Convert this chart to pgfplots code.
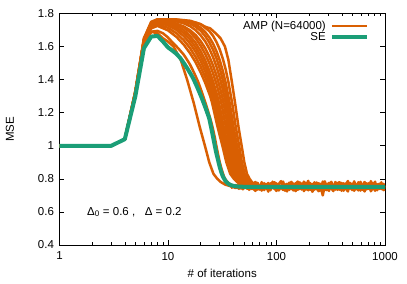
\documentclass[border=0pt]{standalone}
\usepackage{fontspec}
\setmainfont{Liberation Sans}
\usepackage{pgfplots}
\usepackage{pgfplotstable}
\pgfplotsset{compat=1.18}
\definecolor{ampc}{HTML}{D95F02}
\definecolor{sec}{HTML}{1B9E77}
\pgfplotstableread{
t a b c d e
38 0.758 0.746 0.752 0.753 0.745
40 0.748 0.757 0.761 0.762 0.755
42 0.760 0.744 0.747 0.749 0.763
45 0.746 0.759 0.755 0.765 0.740
47 0.757 0.750 0.744 0.742 0.760
49 0.749 0.762 0.763 0.758 0.737
51 0.761 0.745 0.751 0.766 0.753
54 0.744 0.756 0.740 0.746 0.769
56 0.760 0.742 0.764 0.771 0.734
59 0.747 0.763 0.748 0.739 0.757
61 0.766 0.738 0.757 0.768 0.742
64 0.741 0.760 0.739 0.781 0.727
67 0.758 0.752 0.768 0.735 0.776
70 0.749 0.735 0.753 0.762 0.741
73 0.770 0.764 0.743 0.729 0.780
77 0.742 0.747 0.766 0.774 0.732
80 0.761 0.769 0.749 0.745 0.759
84 0.737 0.740 0.775 0.766 0.723
88 0.756 0.758 0.741 0.731 0.773
92 0.764 0.744 0.760 0.783 0.748
96 0.745 0.766 0.738 0.744 0.779
100 0.772 0.737 0.770 0.727 0.762
105 0.740 0.761 0.754 0.769 0.730
110 0.755 0.748 0.745 0.786 0.751
115 0.763 0.733 0.776 0.741 0.784
120 0.736 0.767 0.742 0.760 0.728
125 0.768 0.745 0.763 0.724 0.770
131 0.749 0.771 0.733 0.777 0.738
137 0.759 0.739 0.759 0.748 0.782
143 0.742 0.756 0.771 0.730 0.762
150 0.774 0.762 0.746 0.765 0.726
157 0.738 0.734 0.737 0.784 0.747
164 0.760 0.768 0.767 0.738 0.779
171 0.751 0.747 0.752 0.772 0.735
179 0.767 0.740 0.780 0.726 0.783
187 0.735 0.773 0.740 0.757 0.765
196 0.757 0.751 0.761 0.788 0.731
205 0.769 0.736 0.744 0.733 0.774
214 0.744 0.764 0.769 0.751 0.722
224 0.762 0.744 0.735 0.779 0.747
234 0.739 0.770 0.758 0.742 0.778
245 0.771 0.739 0.773 0.725 0.760
256 0.748 0.757 0.747 0.770 0.729
267 0.744 0.765 0.700 0.756 0.784
279 0.765 0.732 0.762 0.785 0.738
292 0.743 0.761 0.739 0.731 0.771
305 0.776 0.749 0.757 0.768 0.727
319 0.740 0.775 0.777 0.744 0.782
334 0.758 0.738 0.743 0.726 0.760
349 0.766 0.755 0.765 0.781 0.735
365 0.737 0.767 0.734 0.752 0.773
381 0.762 0.735 0.760 0.736 0.780
398 0.750 0.763 0.772 0.775 0.728
416 0.773 0.746 0.745 0.729 0.767
435 0.741 0.772 0.756 0.763 0.741
455 0.757 0.737 0.740 0.787 0.724
476 0.768 0.759 0.768 0.740 0.776
497 0.738 0.750 0.749 0.771 0.732
520 0.764 0.728 0.778 0.733 0.785
543 0.745 0.766 0.737 0.758 0.745
568 0.779 0.743 0.763 0.730 0.777
594 0.736 0.769 0.753 0.782 0.729
621 0.760 0.734 0.741 0.747 0.762
649 0.752 0.761 0.770 0.724 0.781
678 0.769 0.748 0.746 0.773 0.736
709 0.741 0.774 0.759 0.739 0.770
741 0.763 0.739 0.735 0.786 0.725
775 0.738 0.757 0.774 0.755 0.749
810 0.771 0.765 0.748 0.728 0.783
846 0.747 0.736 0.766 0.767 0.731
885 0.758 0.762 0.739 0.744 0.771
925 0.767 0.745 0.761 0.779 0.738
967 0.742 0.770 0.751 0.732 0.766
1000 0.756 0.748 0.757 0.760 0.727
}\noisetab
\begin{document}
\begin{tikzpicture}[font=\fontsize{11.5bp}{13bp}\selectfont]
\begin{axis}[
  at={(0,0)}, anchor=south west,
  scale only axis, width=325.5bp, height=231.5bp,
  xmode=log, xmin=1, xmax=1000, ymin=0.4, ymax=1.8,
  xtick={1,10,100,1000}, xticklabels={1,10,100,1000},
  minor xtick={2,3,4,5,6,7,8,9,20,30,40,50,60,70,80,90,200,300,400,500,600,700,800,900},
  ytick={0.4,0.6,0.8,1,1.2,1.4,1.6,1.8},
  yticklabels={0.4,0.6,0.8,1,1.2,1.4,1.6,1.8},
  tick align=inside,
  major tick length=5bp, minor tick length=2.5bp,
  tick style={black, line width=0.6bp},
  axis line style={line width=0.9bp},
  xticklabel style={yshift=-3.5bp},
  yticklabel style={xshift=-2bp},
  xlabel={\# of iterations}, ylabel={MSE},
  x label style={at={(axis description cs:0.5,-0.121)}, anchor=center},
  y label style={at={(axis description cs:-0.152,0.5)}, anchor=center},
  legend cell align=right, legend plot pos=right,
  legend style={draw=none, fill=none, at={(axis description cs:0.96,0.98)}, anchor=north east,
    nodes={inner sep=1bp}, row sep=-1bp, column sep=3bp},
  legend image code/.code={\draw[#1] (0bp,0bp) -- (35bp,0bp);},
  ampst/.style={color=ampc, line width=2.5bp, line join=round, no markers},
  every axis plot/.append style={line join=round},
]
% AMP curves
\addplot[ampst] coordinates {(1,1)(2,1)(3,1)(4,1.04)(5,1.31)(6,1.60)(7,1.69)(8,1.68)(9,1.65)(10,1.63)(11.25,1.60)(13.1,1.52)(15,1.40)(17.25,1.26)(19.5,1.12)(22.1,0.99)(24,0.90)(26.25,0.83)(28.5,0.80)(30.75,0.78)(33.75,0.765)(38,0.755)(42,0.748)(46,0.758)(50,0.746)(55,0.755)};
\addlegendentry{AMP (N=64000)}
\addplot[ampst, forget plot] coordinates {(1,1)(2,1)(3,1)(4,1.04)(5,1.31)(6,1.61)(7,1.69)(8,1.695)(9,1.68)(10,1.655)(11,1.625)(12,1.60)(13,1.575)(14,1.55)(15,1.52)(16,1.49)(17,1.455)(18,1.42)(19,1.385)(20,1.345)(21,1.305)(22,1.265)(23,1.225)(24,1.185)(25,1.145)(26,1.10)(27,1.05)(28,0.995)(29,0.945)(30,0.90)(31,0.865)(32,0.835)(33,0.81)(34,0.795)(36,0.775)(38,0.765)(41,0.758)(45,0.750)(50,0.757)};
\addplot[ampst, forget plot] coordinates {(1,1)(2,1)(3,1)(4,1.04)(5,1.32)(6,1.63)(7,1.71)(8,1.725)(10,1.698)(12,1.658)(14,1.611)(16,1.559)(18,1.504)(20,1.444)(22,1.382)(24.5,1.30)(25.5,1.26)(28.5,1.12)(32,0.99)(34.5,0.90)(37.5,0.83)(40.5,0.80)(43.5,0.78)(47.5,0.765)(54.5,0.755)};
\addplot[ampst, forget plot] coordinates {(1,1)(2,1)(3,1)(4,1.04)(5,1.33)(6,1.64)(7,1.72)(8,1.735)(10,1.714)(12,1.680)(14,1.638)(16,1.590)(18,1.536)(20,1.478)(22,1.417)(24,1.351)(25.5,1.30)(26.5,1.26)(29.5,1.12)(33,0.99)(35.5,0.90)(38.5,0.83)(41.5,0.80)(44.5,0.78)(48.5,0.765)(55.5,0.755)};
\addplot[ampst, forget plot] coordinates {(1,1)(2,1)(3,1)(4,1.04)(5,1.32)(6,1.62)(7,1.73)(8,1.745)(10,1.729)(12,1.700)(14,1.663)(16,1.618)(18,1.568)(20,1.513)(22,1.452)(24,1.387)(26.5,1.30)(27.5,1.26)(30.5,1.12)(34,0.99)(36.5,0.90)(39.5,0.83)(42.5,0.80)(45.5,0.78)(49.5,0.765)(56.5,0.755)};
\addplot[ampst, forget plot] coordinates {(1,1)(2,1)(3,1)(4,1.04)(5,1.31)(6,1.63)(7,1.73)(8,1.75)(10,1.738)(12,1.714)(14,1.682)(16,1.642)(18,1.595)(20,1.543)(22,1.485)(24,1.422)(26,1.354)(27.5,1.30)(28.5,1.26)(31.5,1.12)(35,0.99)(37.5,0.90)(40.5,0.83)(43.5,0.80)(46.5,0.78)(50.5,0.765)(57.5,0.755)};
\addplot[ampst, forget plot] coordinates {(1,1)(2,1)(3,1)(4,1.04)(5,1.33)(6,1.65)(7,1.74)(8,1.755)(10,1.746)(12,1.727)(14,1.699)(16,1.663)(18,1.621)(20,1.572)(22,1.517)(24,1.456)(26,1.390)(28.5,1.30)(29.5,1.26)(32.5,1.12)(36,0.99)(38.5,0.90)(41.5,0.83)(44.5,0.80)(47.5,0.78)(51.5,0.765)(58.5,0.755)};
\addplot[ampst, forget plot] coordinates {(1,1)(2,1)(3,1)(4,1.04)(5,1.32)(6,1.64)(7,1.745)(8,1.76)(10,1.754)(12,1.739)(14,1.716)(16,1.686)(18,1.649)(20,1.605)(22,1.556)(24,1.501)(26,1.439)(28,1.373)(30,1.30)(31,1.26)(34,1.12)(37.5,0.99)(40,0.90)(43,0.83)(46,0.80)(49,0.78)(53,0.765)(60,0.755)};
\addplot[ampst, forget plot] coordinates {(1,1)(2,1)(3,1)(4,1.04)(5,1.31)(6,1.62)(7,1.725)(8,1.75)(10,1.747)(12,1.737)(14,1.721)(16,1.698)(18,1.669)(20,1.633)(22,1.590)(24,1.541)(26,1.486)(28,1.424)(30,1.356)(31.5,1.30)(32.5,1.26)(35.5,1.12)(39,0.99)(41.5,0.90)(44.5,0.83)(47.5,0.80)(50.5,0.78)(54.5,0.765)(61.5,0.755)};
\addplot[ampst, forget plot] coordinates {(1,1)(2,1)(3,1)(4,1.04)(5,1.32)(6,1.63)(7,1.74)(8,1.76)(10,1.758)(12,1.752)(14,1.740)(16,1.723)(18,1.699)(20,1.668)(22,1.632)(24,1.588)(26,1.537)(28,1.478)(30,1.413)(32,1.340)(33,1.30)(34,1.26)(37,1.12)(40.5,0.99)(43,0.90)(46,0.83)(49,0.80)(52,0.78)(56,0.765)(63,0.755)};
\addplot[ampst, forget plot] coordinates {(1,1)(2,1)(3,1)(4,1.04)(5,1.32)(6,1.64)(7,1.745)(8,1.765)(10,1.764)(12,1.760)(14,1.752)(16,1.739)(18,1.720)(20,1.696)(22,1.664)(24,1.626)(26,1.581)(28,1.528)(30,1.467)(32,1.399)(34.5,1.30)(35.5,1.26)(38.5,1.12)(42,0.99)(44.5,0.90)(47.5,0.83)(50.5,0.80)(53.5,0.78)(57.5,0.765)(64.5,0.755)};
\addplot[ampst, forget plot] coordinates {(1,1)(2,1)(3,1)(4,1.04)(5,1.33)(6,1.65)(7,1.75)(8,1.765)(10,1.765)(12,1.762)(14,1.757)(16,1.747)(18,1.733)(20,1.714)(22,1.688)(24,1.656)(26,1.618)(28,1.571)(30,1.517)(32,1.453)(34,1.381)(36,1.30)(37,1.26)(40,1.12)(43.5,0.99)(46,0.90)(49,0.83)(52,0.80)(55,0.78)(59,0.765)(66,0.755)};
\addplot[ampst, forget plot] coordinates {(1,1)(2,1)(3,1)(4,1.04)(5,1.32)(6,1.63)(7,1.74)(8,1.76)(10,1.765)(12,1.764)(16,1.756)(20,1.735)(24,1.694)(26,1.665)(28,1.627)(30,1.582)(32,1.527)(34,1.462)(36,1.387)(38,1.30)(39,1.26)(42,1.12)(45.5,0.99)(48,0.90)(51,0.83)(54,0.80)(57,0.78)(61,0.765)(68,0.755)};
\addplot[ampst, forget plot] coordinates {(1,1)(2,1)(3,1)(4,1.04)(5,1.31)(6,1.62)(7,1.73)(8,1.75)(9,1.76)(10,1.765)(12,1.76)(14,1.755)(16,1.75)(18,1.745)(20,1.735)(22,1.72)(24.5,1.71)(27.5,1.68)(30.5,1.65)(33.5,1.60)(36,1.52)(38.5,1.40)(41.5,1.26)(44.5,1.12)(48,0.99)(50.5,0.90)(53.5,0.83)(56.5,0.80)(59.5,0.78)(63.5,0.765)(70.5,0.755)};
% noisy plateau of the AMP runs
\addplot[ampst, forget plot] table[x=t, y=a] {\noisetab};
\addplot[ampst, forget plot] table[x=t, y=b] {\noisetab};
\addplot[ampst, forget plot] table[x=t, y=c] {\noisetab};
\addplot[ampst, forget plot] table[x=t, y=d] {\noisetab};
\addplot[ampst, forget plot] table[x=t, y=e] {\noisetab};
% SE
\addplot[color=sec, line width=4bp, line join=round, no markers] coordinates {(1,1)(2,1)(3,1)(4,1.04)(5,1.30)(6,1.59)(7,1.66)(8,1.665)(9,1.63)(10,1.595)(11,1.575)(12,1.555)(13,1.53)(14,1.50)(15,1.47)(16,1.44)(17,1.41)(18,1.375)(19,1.34)(20,1.305)(21,1.27)(22,1.235)(23,1.20)(24,1.165)(25,1.11)(26,1.055)(27,1.0)(28,0.95)(29,0.91)(30,0.87)(31,0.84)(32,0.815)(33,0.80)(34,0.785)(36,0.77)(38,0.762)(41,0.756)(45,0.753)(50,0.752)(1000,0.752)};
\addlegendentry{SE}
\node[anchor=west, inner sep=0pt] at (axis cs:1.79,0.60) {Δ\textsubscript{0} = 0.6 ,\ \ \ Δ = 0.2};
\end{axis}
\pgfresetboundingbox
\path[use as bounding box] (-59.5bp,-39bp) rectangle (347.5bp,245bp);
\end{tikzpicture}
\end{document}
